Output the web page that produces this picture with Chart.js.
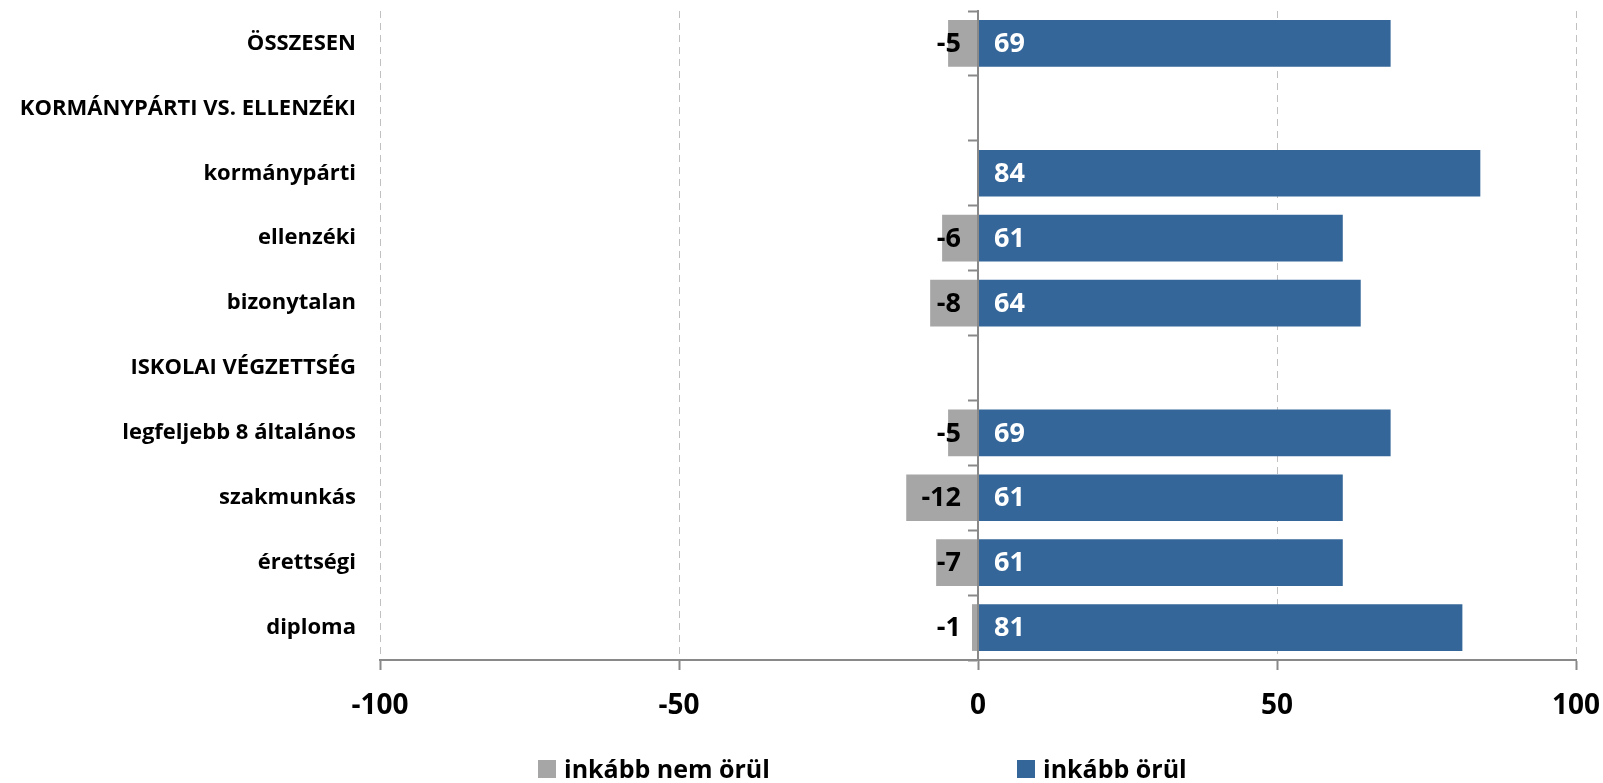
<!DOCTYPE html>
<html><head><meta charset="utf-8">
<script src="https://cdn.jsdelivr.net/npm/chart.js@4.4.0/dist/chart.umd.min.js"></script>
<style>
html,body{margin:0;padding:0;background:#fff;}
#wrap{position:relative;width:1603px;height:783px;}
#c{position:absolute;left:0;top:0;}
.lg{position:absolute;display:flex;align-items:center;font-family:'Open Sans',sans-serif;font-weight:700;font-size:25px;color:#000;white-space:nowrap;line-height:1;}
.lg .box{display:inline-block;width:18px;height:18px;margin-right:8px;}
</style></head><body>
<div id="wrap"><canvas id="c" width="1603" height="783" style="width:1603px;height:783px"></canvas>
<div class="lg" id="lg0" style="left:538px;top:756px"></div>
<div class="lg" id="lg1" style="left:1017px;top:756px"></div>
</div>
<script>
const categories = ['ÖSSZESEN','KORMÁNYPÁRTI VS. ELLENZÉKI','kormánypárti','ellenzéki','bizonytalan','ISKOLAI VÉGZETTSÉG','legfeljebb 8 általános','szakmunkás','érettségi','diploma'];
const nemOrul = [-5, null, null, -6, -8, null, -5, -12, -7, -1];
const orul = [69, null, 84, 61, 64, null, 69, 61, 61, 81];
const seriesNames = ['inkább nem örül','inkább örül'];
const seriesColors = ['#A6A6A6','#346699'];
const xMin = -100, xMax = 100, xStep = 50;

const FONT = "'Open Sans', sans-serif";
const AXIS_GRAY = '#898989';

const labelPlugin = {
  id: 'barLabels',
  afterDatasetsDraw(chart) {
    const ctx = chart.ctx;
    const zero = chart.scales.x.getPixelForValue(0);
    ctx.save();
    ctx.font = `700 27px ${FONT}`;
    ctx.textBaseline = 'middle';
    chart.data.datasets.forEach((ds, di) => {
      const meta = chart.getDatasetMeta(di);
      meta.data.forEach((el, i) => {
        const v = ds.data[i];
        if (v === null || v === undefined || v === 0) return;
        if (v < 0) {
          ctx.fillStyle = '#000';
          ctx.textAlign = 'right';
          ctx.fillText(String(v), zero - 17, el.y + 1);
        } else {
          ctx.fillStyle = '#fff';
          ctx.textAlign = 'left';
          ctx.fillText(String(v), zero + 16, el.y + 1);
        }
      });
    });
    ctx.restore();
  }
};

const chart = new Chart(document.getElementById('c'), {
  type: 'bar',
  data: {
    labels: categories,
    datasets: [
      { label: seriesNames[0], data: nemOrul, backgroundColor: seriesColors[0], borderWidth: 0, barPercentage: 0.72, categoryPercentage: 1 },
      { label: seriesNames[1], data: orul, backgroundColor: seriesColors[1], borderWidth: 0, barPercentage: 0.72, categoryPercentage: 1 }
    ]
  },
  options: {
    indexAxis: 'y',
    responsive: false,
    animation: false,
    devicePixelRatio: 1,
    layout: { padding: { top: 11, right: 27, bottom: 0, left: 0 } },
    plugins: { legend: { display: false }, tooltip: { enabled: false } },
    scales: {
      x: {
        type: 'linear', stacked: true, min: xMin, max: xMax,
        ticks: { stepSize: xStep, color: '#000', font: { family: FONT, weight: '700', size: 28 }, padding: 19 },
        grid: {
          color: c => (c.tick && c.tick.value === 0) ? 'rgba(0,0,0,0)' : '#C0C0C0',
          lineWidth: 1, tickLength: 10, tickColor: AXIS_GRAY, tickWidth: 2, tickBorderDash: []
        },
        border: { display: true, color: AXIS_GRAY, width: 2, dash: [7, 5] },
        afterFit: s => { s.height = 123; s.paddingLeft = 0; s.paddingRight = 0; }
      },
      y: {
        type: 'category', stacked: true, position: 'left',
        ticks: { color: '#000', font: { family: FONT, weight: '700', size: 22 }, padding: 16 },
        grid: { display: false },
        border: { display: false },
        afterFit: s => { s.width = 380; s.paddingTop = 0; s.paddingBottom = 0; }
      },
      y2: {
        type: 'category', axis: 'y', position: { x: 0 }, offset: true,
        ticks: { display: false },
        grid: { display: true, drawOnChartArea: false, offset: true, tickLength: 9, tickColor: AXIS_GRAY, tickWidth: 2 },
        border: { display: true, color: AXIS_GRAY, width: 2, z: 1 },
        afterFit: s => { s.paddingTop = 0; s.paddingBottom = 0; s.paddingLeft = 0; s.paddingRight = 0; }
      }
    }
  },
  plugins: [labelPlugin]
});

chart.data.datasets.forEach((ds, i) => {
  const el = document.getElementById('lg' + i);
  const box = document.createElement('span');
  box.className = 'box';
  box.style.background = ds.backgroundColor;
  const t = document.createElement('span');
  t.textContent = ds.label;
  el.appendChild(box);
  el.appendChild(t);
});
</script>
</body></html>
